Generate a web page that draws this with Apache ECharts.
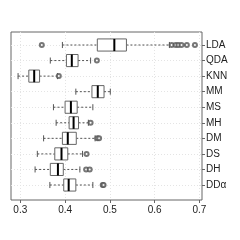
<!DOCTYPE html>
<html><head><meta charset="utf-8">
<script src="https://cdn.jsdelivr.net/npm/echarts@6/dist/echarts.min.js"></script>
<style>html,body{margin:0;padding:0;background:#fff}#c{width:240px;height:240px}</style>
</head><body><div id="c"></div>
<script>
var categories = ['LDA','QDA','KNN','MM','MS','MH','DM','DS','DH','DD\u03b1'];
var whiskerLow  = [0.394,0.367,0.295,0.424,0.374,0.380,0.352,0.338,0.333,0.366];
var q1          = [0.472,0.403,0.319,0.460,0.400,0.409,0.394,0.377,0.367,0.397];
var median      = [0.510,0.415,0.331,0.473,0.413,0.419,0.406,0.392,0.384,0.408];
var q3          = [0.537,0.429,0.343,0.487,0.427,0.430,0.425,0.406,0.396,0.424];
var whiskerHigh = [0.633,0.457,0.383,0.501,0.462,0.452,0.467,0.439,0.433,0.462];
var outliers = [
  [0.348,0.638,0.647,0.653,0.660,0.672,0.690],
  [0.471],
  [0.386],
  [],
  [],
  [0.457],
  [0.472,0.476],
  [0.448],
  [0.447,0.455],
  [0.484,0.486]
];
var xTicks = [0.3,0.4,0.5,0.6,0.7];
var xMin = 0.2792, xMax = 0.7058;

var boxData = categories.map(function(c,i){return [i, whiskerLow[i], q1[i], median[i], q3[i], whiskerHigh[i]];});
var outData = [];
outliers.forEach(function(arr,i){arr.forEach(function(v){outData.push([v,i]);});});

var FONT = 'Liberation Sans, Arial, sans-serif';
var chart = echarts.init(document.getElementById('c'), null, {renderer:'canvas'});
chart.setOption({
  animation:false,
  backgroundColor:'#fff',
  grid:[
    {left:11,right:38,top:32,bottom:40,show:true,borderColor:'#666',borderWidth:1,backgroundColor:'transparent'},
    {left:11,right:38,top:45,bottom:55}
  ],
  xAxis:[
    {type:'value',gridIndex:0,min:xMin,max:xMax,position:'bottom',
     axisLine:{show:false},
     axisTick:{show:true,length:3,lineStyle:{color:'#666'},customValues:xTicks},
     axisLabel:{customValues:xTicks,fontFamily:FONT,fontSize:10,color:'#222',margin:5,
       formatter:function(v){return v.toFixed(1);}},
     splitLine:{show:true,lineStyle:{color:'#e4e4e4',type:[1,2],width:1}}},
    {type:'value',gridIndex:1,min:xMin,max:xMax,show:false}
  ],
  yAxis:[
    {type:'value',gridIndex:0,show:false,splitLine:{show:false}},
    {type:'category',gridIndex:1,data:categories,inverse:true,boundaryGap:false,position:'right',
     axisLine:{show:false},
     axisTick:{show:true,length:3,lineStyle:{color:'#666'}},
     axisLabel:{fontFamily:FONT,fontSize:10,color:'#222',margin:4},
     splitLine:{show:true,lineStyle:{color:'#e4e4e4',type:[1,2],width:1}}}
  ],
  series:[
    {type:'custom',xAxisIndex:1,yAxisIndex:1,data:boxData,z:3,
     renderItem:function(params,api){
       var idx=api.value(0);
       var pLow=api.coord([api.value(1),idx]);
       var pQ1=api.coord([api.value(2),idx]);
       var pMed=api.coord([api.value(3),idx]);
       var pQ3=api.coord([api.value(4),idx]);
       var pHigh=api.coord([api.value(5),idx]);
       var band=api.size([0,1])[1];
       var h=band*0.39, c=h*0.5;
       var y=pMed[1];
       var dash={stroke:'#555',lineWidth:1,lineDash:[2,2]};
       var solid={stroke:'#555',lineWidth:1};
       return {type:'group',children:[
         {type:'line',shape:{x1:pLow[0],y1:y,x2:pQ1[0],y2:y},style:dash},
         {type:'line',shape:{x1:pQ3[0],y1:y,x2:pHigh[0],y2:y},style:dash},
         {type:'line',shape:{x1:pLow[0],y1:y-c,x2:pLow[0],y2:y+c},style:solid},
         {type:'line',shape:{x1:pHigh[0],y1:y-c,x2:pHigh[0],y2:y+c},style:solid},
         {type:'rect',shape:{x:pQ1[0],y:y-h,width:pQ3[0]-pQ1[0],height:2*h},style:{fill:'#fff',stroke:'#666',lineWidth:1}},
         {type:'line',shape:{x1:pMed[0],y1:y-h,x2:pMed[0],y2:y+h},style:{stroke:'#000',lineWidth:2}}
       ]};
     }},
    {type:'scatter',xAxisIndex:1,yAxisIndex:1,data:outData,symbol:'emptyCircle',symbolSize:4,z:4,
     itemStyle:{color:'#555',borderColor:'#555',borderWidth:1}}
  ]
});
</script></body></html>
